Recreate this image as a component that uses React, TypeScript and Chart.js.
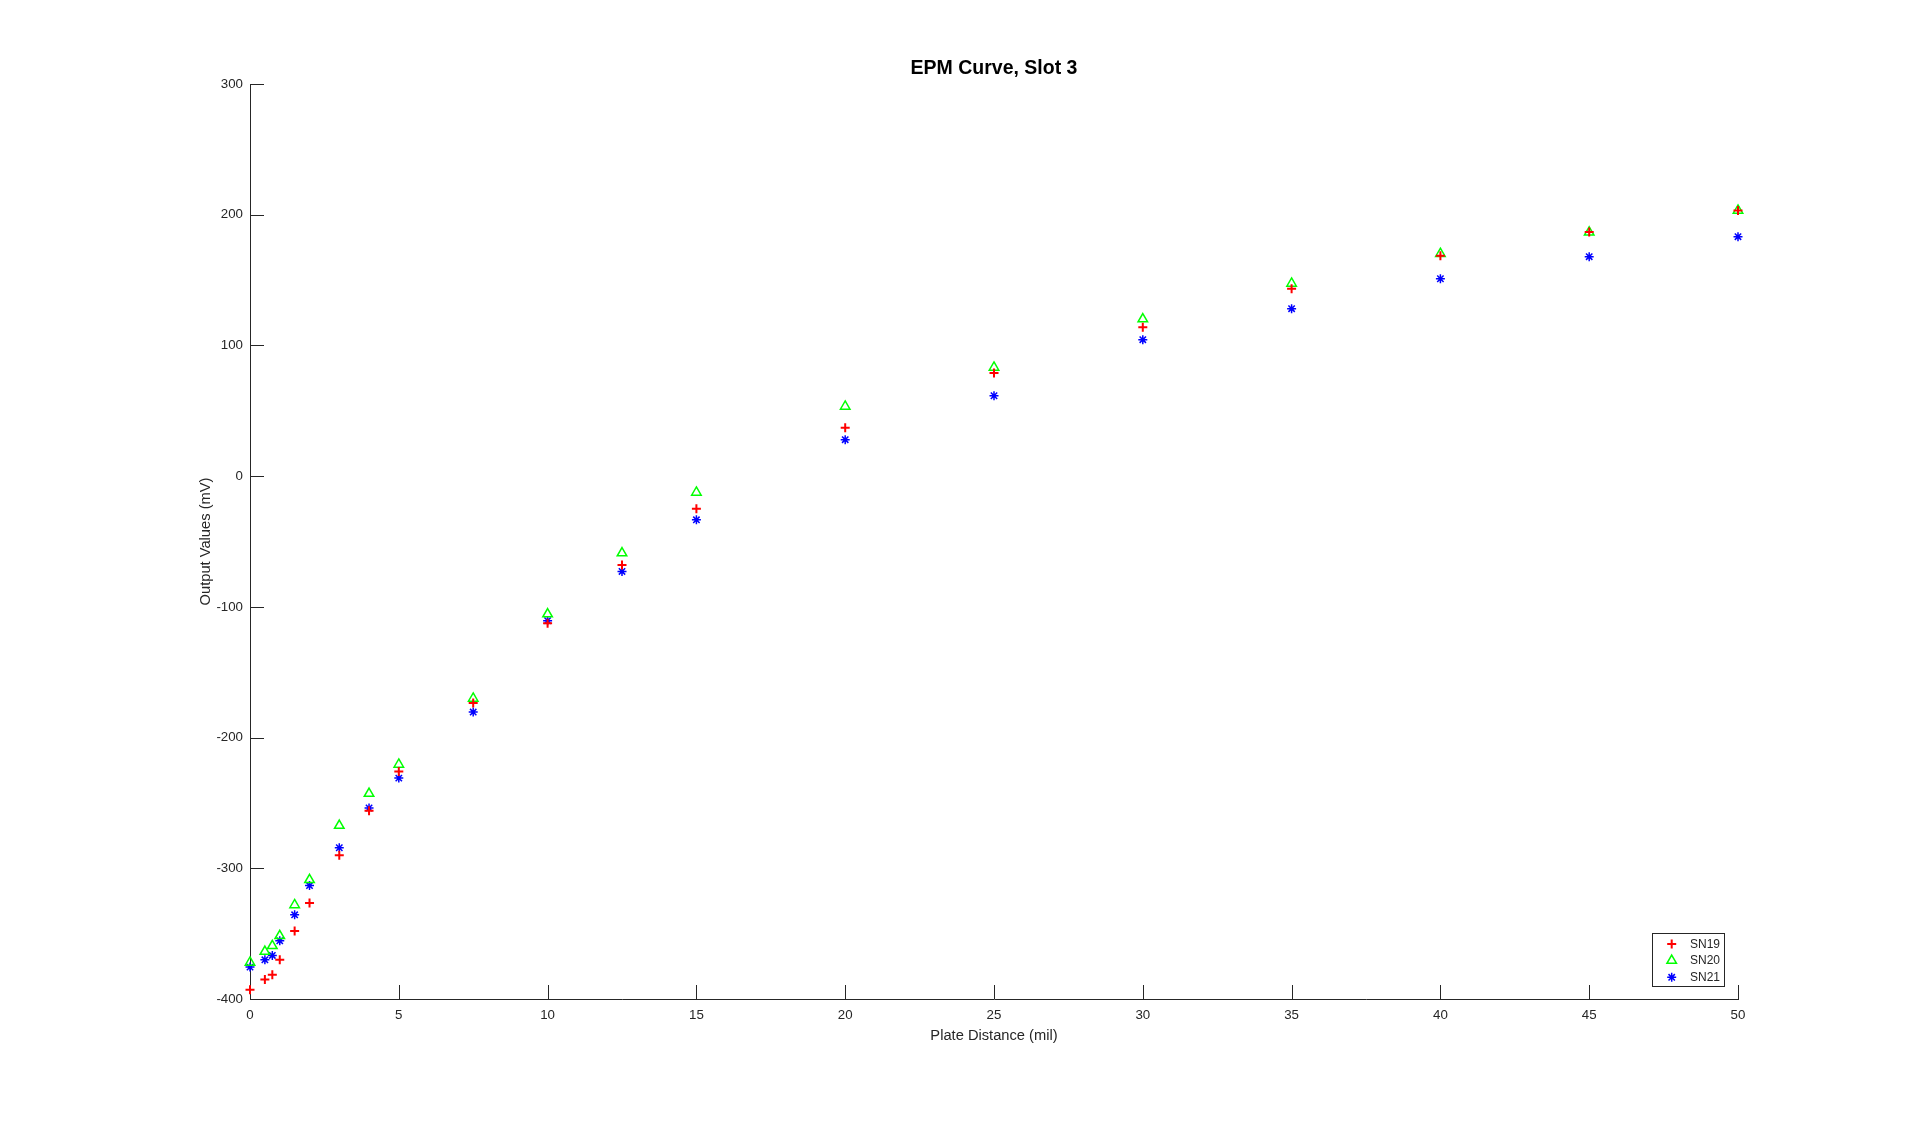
import React, { useEffect, useRef } from 'react';
import { Chart, registerables } from 'chart.js';

Chart.register(...registerables);

const titleText = 'EPM Curve, Slot 3';
const xLabel = 'Plate Distance (mil)';
const yLabel = 'Output Values (mV)';
const seriesNames = ['SN19', 'SN20', 'SN21'];

const plateDistance = [0, 0.5, 0.75, 1, 1.5, 2, 3, 4, 5, 7.5, 10, 12.5, 15, 20, 25, 30, 35, 40, 45, 50];
const sn19 = [-393, -385, -381.5, -370, -348, -326.6, -290, -256, -226, -173.6, -112.5, -68, -25, 37, 79, 114, 143.4, 168.6, 186.8, 203.3];
const sn20 = [-372, -363.7, -359.3, -351.7, -328, -308.8, -267.3, -242.8, -220.6, -170.1, -105.5, -58.8, -12.5, 53.3, 83.2, 120.2, 147.4, 170.2, 186.5, 203.3];
const sn21 = [-375.6, -370, -366.7, -355.5, -335.6, -313.2, -284.3, -253.9, -231, -180.5, -110.6, -72.9, -33.4, 27.9, 61.5, 104.4, 128.1, 151, 167.9, 183.2];

const colors = ['#ff0000', '#00ff00', '#0000ff'];
const styles = ['cross', 'triangle', 'star'];
const FONT = '"Liberation Sans", Arial, Helvetica, sans-serif';
const AXIS = '#262626';

function drawMarker(ctx: CanvasRenderingContext2D, style: string, x: number, y: number, r: number) {
  ctx.beginPath();
  if (style === 'cross') {
    ctx.moveTo(x - r, y); ctx.lineTo(x + r, y);
    ctx.moveTo(x, y - r); ctx.lineTo(x, y + r);
  } else if (style === 'triangle') {
    let rad = 0;
    ctx.moveTo(x + Math.sin(rad) * r, y - Math.cos(rad) * r);
    rad += (2 * Math.PI) / 3;
    ctx.lineTo(x + Math.sin(rad) * r, y - Math.cos(rad) * r);
    rad += (2 * Math.PI) / 3;
    ctx.lineTo(x + Math.sin(rad) * r, y - Math.cos(rad) * r);
    ctx.closePath();
  } else {
    ctx.moveTo(x - r, y); ctx.lineTo(x + r, y);
    ctx.moveTo(x, y - r); ctx.lineTo(x, y + r);
    const d = r * Math.SQRT1_2;
    ctx.moveTo(x - d, y - d); ctx.lineTo(x + d, y + d);
    ctx.moveTo(x - d, y + d); ctx.lineTo(x + d, y - d);
  }
  ctx.stroke();
}

const decorPlugin = {
  id: 'decor',
  beforeDatasetsDraw(chart: any) {
    const { ctx, chartArea, scales } = chart;
    ctx.save();
    ctx.strokeStyle = AXIS;
    ctx.lineWidth = 1;
    ctx.beginPath();
    for (const t of scales.x.ticks) {
      const px = Math.round(scales.x.getPixelForValue(t.value)) + 0.5;
      ctx.moveTo(px, chartArea.bottom);
      ctx.lineTo(px, chartArea.bottom - 14);
    }
    for (const t of scales.y.ticks) {
      const py = Math.round(scales.y.getPixelForValue(t.value)) + 0.5;
      ctx.moveTo(chartArea.left, py);
      ctx.lineTo(chartArea.left + 14, py);
    }
    ctx.stroke();
    ctx.restore();
  },
  afterDraw(chart: any) {
    const { ctx, chartArea } = chart;
    ctx.save();
    // title
    ctx.fillStyle = '#000000';
    ctx.font = `bold 19.5px ${FONT}`;
    ctx.textAlign = 'center';
    ctx.textBaseline = 'middle';
    ctx.fillText(titleText, (chartArea.left + chartArea.right) / 2, 68.5);
    // legend
    const bx = 1652.5, by = 933.5, bw = 72, bh = 53;
    ctx.fillStyle = '#ffffff';
    ctx.fillRect(bx, by, bw, bh);
    ctx.strokeStyle = AXIS;
    ctx.lineWidth = 1;
    ctx.strokeRect(bx, by, bw, bh);
    const rows = [944, 960.5, 977.3];
    const widths = [2, 1.5, 1.5];
    const radii = [4.5, 5.5, 4.5];
    seriesNames.forEach((name, i) => {
      ctx.strokeStyle = colors[i];
      ctx.lineWidth = widths[i];
      drawMarker(ctx, styles[i], 1671.7, rows[i], radii[i]);
      ctx.fillStyle = AXIS;
      ctx.font = `12px ${FONT}`;
      ctx.textAlign = 'left';
      ctx.textBaseline = 'middle';
      ctx.fillText(name, 1690, rows[i] + 0.5);
    });
    ctx.restore();
  },
};

export default function App() {
  const ref = useRef<HTMLCanvasElement | null>(null);
  useEffect(() => {
    if (!ref.current) return;
    const mk = (vals: number[]) => plateDistance.map((x, i) => ({ x, y: vals[i] }));
    const all = [sn19, sn20, sn21];
    const chart = new Chart(ref.current, {
      type: 'scatter',
      data: {
        datasets: all.map((vals, i) => ({
          label: seriesNames[i],
          data: mk(vals),
          pointStyle: styles[i] as any,
          pointRadius: [4.5, 5.5, 4.5][i],
          pointHoverRadius: [4.5, 5.5, 4.5][i],
          borderColor: colors[i],
          backgroundColor: i === 1 ? 'rgba(0,0,0,0)' : colors[i],
          pointBorderWidth: [2, 1.5, 1.5][i],
          borderWidth: [2, 1.5, 1.5][i],
          clip: false as any,
        })),
      },
      options: {
        animation: false,
        responsive: false,
        devicePixelRatio: 1,
        events: [],
        layout: { padding: { top: 84, right: 182, left: 0, bottom: 0 } },
        plugins: {
          legend: { display: false },
          title: { display: false },
          tooltip: { enabled: false },
        },
        scales: {
          x: {
            type: 'linear',
            min: 0,
            max: 50,
            afterFit: (s: any) => { s.height = 125; },
            grid: { display: false, drawTicks: false },
            border: { display: true, color: AXIS, width: 1 },
            ticks: {
              stepSize: 5,
              autoSkip: false,
              maxRotation: 0,
              padding: 8,
              color: AXIS,
              font: { family: FONT, size: 13.3 },
            },
            title: {
              display: true,
              text: xLabel,
              color: AXIS,
              font: { family: FONT, size: 14.7 },
              padding: { top: 0, bottom: 79 },
            },
          },
          y: {
            type: 'linear',
            min: -400,
            max: 300,
            afterFit: (s: any) => { s.width = 250; },
            grid: { display: false, drawTicks: false },
            border: { display: true, color: AXIS, width: 1 },
            ticks: {
              stepSize: 100,
              autoSkip: false,
              padding: 7,
              color: AXIS,
              font: { family: FONT, size: 13.3 },
            },
            title: {
              display: true,
              text: yLabel,
              color: AXIS,
              font: { family: FONT, size: 14.7 },
              padding: { top: 197, bottom: 0 },
            },
          },
        },
      },
      plugins: [decorPlugin],
    });
    return () => chart.destroy();
  }, []);
  return (
    <div style={{ position: 'fixed', left: 0, top: 0, width: 1920, height: 1124, background: '#ffffff' }}>
      <canvas ref={ref} width={1920} height={1124} style={{ display: 'block', width: 1920, height: 1124 }} />
    </div>
  );
}
